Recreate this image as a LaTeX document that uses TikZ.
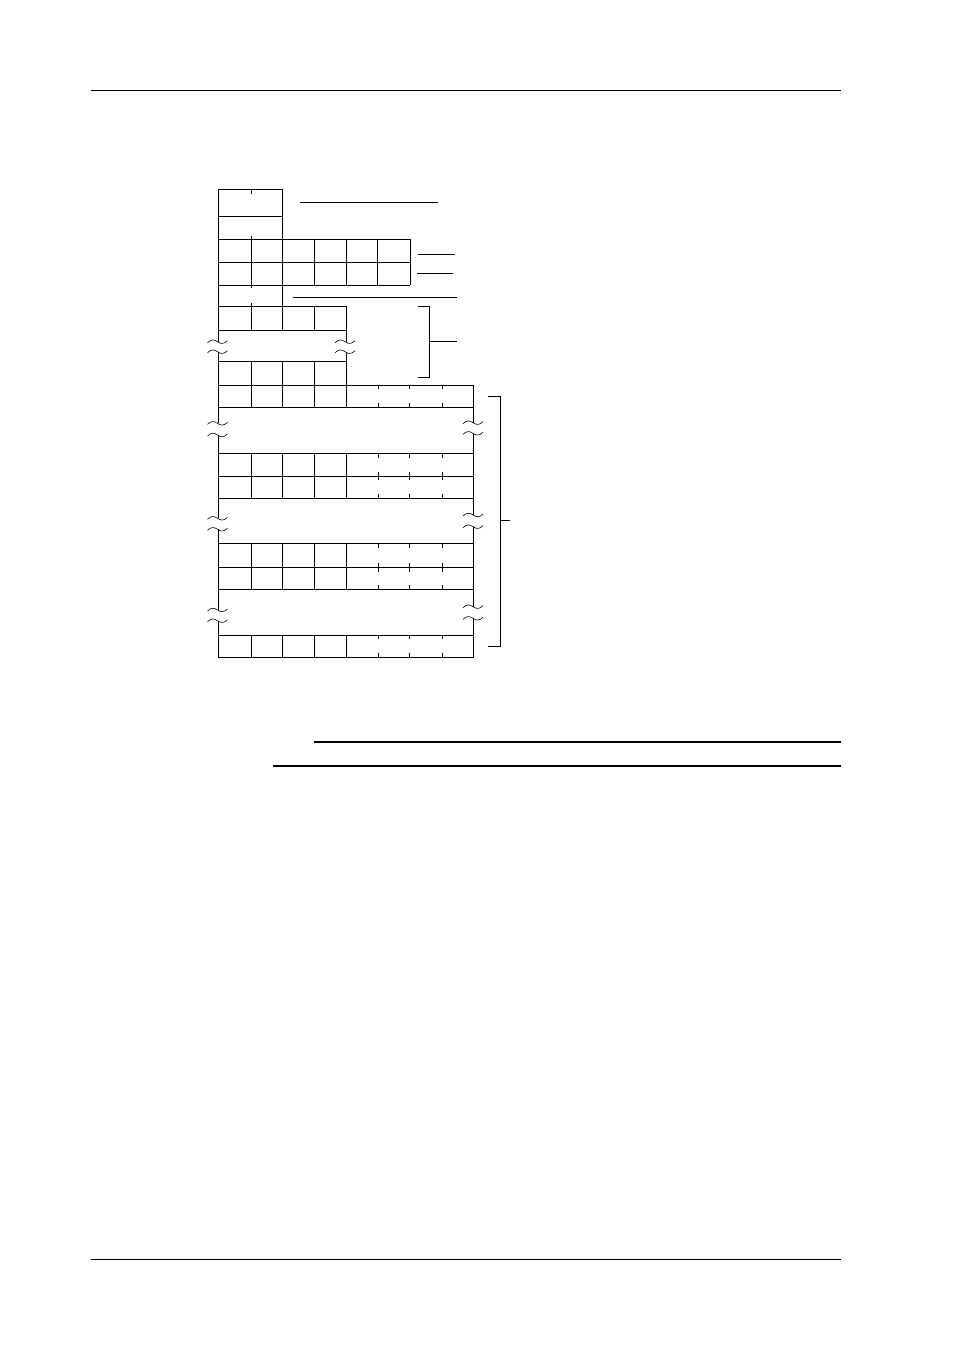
\documentclass[tikz,border=0pt]{standalone}
\begin{document}
\begin{tikzpicture}[x=1pt,y=-1pt,
  ln/.style={line width=0.8pt},
  pagerule/.style={line width=1pt},
  botrule/.style={line width=1.6pt},
  tld/.pic={\draw[line width=0.6pt] (-10,1) .. controls (-6,-3) and (-3,-2) .. (0,0) .. controls (3,2) and (6,3) .. (10,-1);}]
\useasboundingbox (0,0) rectangle (954,1351);
% page rules
\draw[pagerule] (91,90.3) -- (840.7,90.3);
\draw[pagerule] (91,1259.3) -- (840.7,1259.3);
\draw[botrule] (314,742) -- (840.7,742);
\draw[botrule] (272.7,765.7) -- (840.7,765.7);
% top section horizontals
\draw[ln] (218,189.3) -- (282.3,189.3);
\draw[ln] (218,216.7) -- (282.3,216.7);
\foreach \y in {239.3,262.3,285.3} \draw[ln] (218,\y) -- (410,\y);
\foreach \y in {306.7,330,361.7} \draw[ln] (218,\y) -- (346.7,\y);
\foreach \y in {385,407.3,453.3,476,498.3,543.3,567.3,589.3,635,657.3} \draw[ln] (218,\y) -- (473.7,\y);
% left edge with breaks
\draw[ln] (218,189.3) -- (218,341.7);
\draw[ln] (218,351.7) -- (218,423.3);
\draw[ln] (218,435) -- (218,518.3);
\draw[ln] (218,529.3) -- (218,610);
\draw[ln] (218,620.7) -- (218,657.3);
% edge at 346.7
\draw[ln] (346.7,239.3) -- (346.7,285.3);
\draw[ln] (346.7,306.7) -- (346.7,341.7);
\draw[ln] (346.7,351.7) -- (346.7,407.3);
% right edge
\draw[ln] (473.7,385) -- (473.7,422.7);
\draw[ln] (473.7,433.3) -- (473.7,515);
\draw[ln] (473.7,526.7) -- (473.7,606.7);
\draw[ln] (473.7,618.3) -- (473.7,657.3);
% verticals top section
\draw[ln] (282.3,189.3) -- (282.3,330);
\draw[ln] (282.3,361.7) -- (282.3,407.3);
\draw[ln] (251.7,189.3) -- (251.7,194);
\draw[ln] (251.7,236) -- (251.7,288.3);
\draw[ln] (251.7,303.3) -- (251.7,330);
\draw[ln] (251.7,361.7) -- (251.7,407.3);
\draw[ln] (314.3,239.3) -- (314.3,285.3);
\draw[ln] (314.3,306.7) -- (314.3,330);
\draw[ln] (314.3,361.7) -- (314.3,407.3);
\foreach \x in {377.7,410} \draw[ln] (\x,239.3) -- (\x,285.3);
% ticks in row 385-407.3
\foreach \x in {378.3,409.3,442.3} {
  \draw[ln] (\x,385) -- (\x,389.3);
  \draw[ln] (\x,403) -- (\x,407.3);
}
% double-row groups
\foreach \t/\m/\b in {453.3/476/498.3, 543.3/567.3/589.3} {
  \foreach \x in {251.7,282.3,314.3,346.7} \draw[ln] (\x,\t) -- (\x,\b);
  \foreach \x in {378.3,409.3,442.3} {
    \draw[ln] (\x,\t) -- (\x,\t+4.3);
    \draw[ln] (\x,\m-4.3) -- (\x,\m+4.3);
    \draw[ln] (\x,\b-4.3) -- (\x,\b);
  }
}
% last row
\foreach \x in {251.7,282.3,314.3,346.7} \draw[ln] (\x,635) -- (\x,657.3);
\foreach \x in {378.3,409.3,442.3} {
  \draw[ln] (\x,635) -- (\x,639.3);
  \draw[ln] (\x,653) -- (\x,657.3);
}
% break marks
\foreach \y in {341.7,351.7} {\pic at (217.5,\y) {tld}; \pic at (345,\y) {tld};}
\foreach \y in {423.3,435} \pic at (217.5,\y) {tld};
\foreach \y in {422.7,433.3} \pic at (473,\y) {tld};
\foreach \y in {518.3,529.3} \pic at (217.5,\y) {tld};
\foreach \y in {515,526.7} \pic at (473,\y) {tld};
\foreach \y in {610,620.7} \pic at (217.5,\y) {tld};
\foreach \y in {606.7,618.3} \pic at (473,\y) {tld};
% leader lines
\draw[ln] (300,202.5) -- (437.7,202.5);
\draw[ln] (417.7,254) -- (455,254);
\draw[ln] (416.7,273.3) -- (453.3,273.3);
\draw[ln] (293.3,297.3) -- (456.7,297.3);
% brackets
\draw[ln] (418.3,306.7) -- (429.3,306.7) -- (429.3,377.3) -- (418.3,377.3);
\draw[ln] (429.3,341.7) -- (456.7,341.7);
\draw[ln] (488.3,396.7) -- (500,396.7) -- (500,646.7) -- (488.3,646.7);
\draw[ln] (500,520.7) -- (510,520.7);
\end{tikzpicture}
\end{document}
